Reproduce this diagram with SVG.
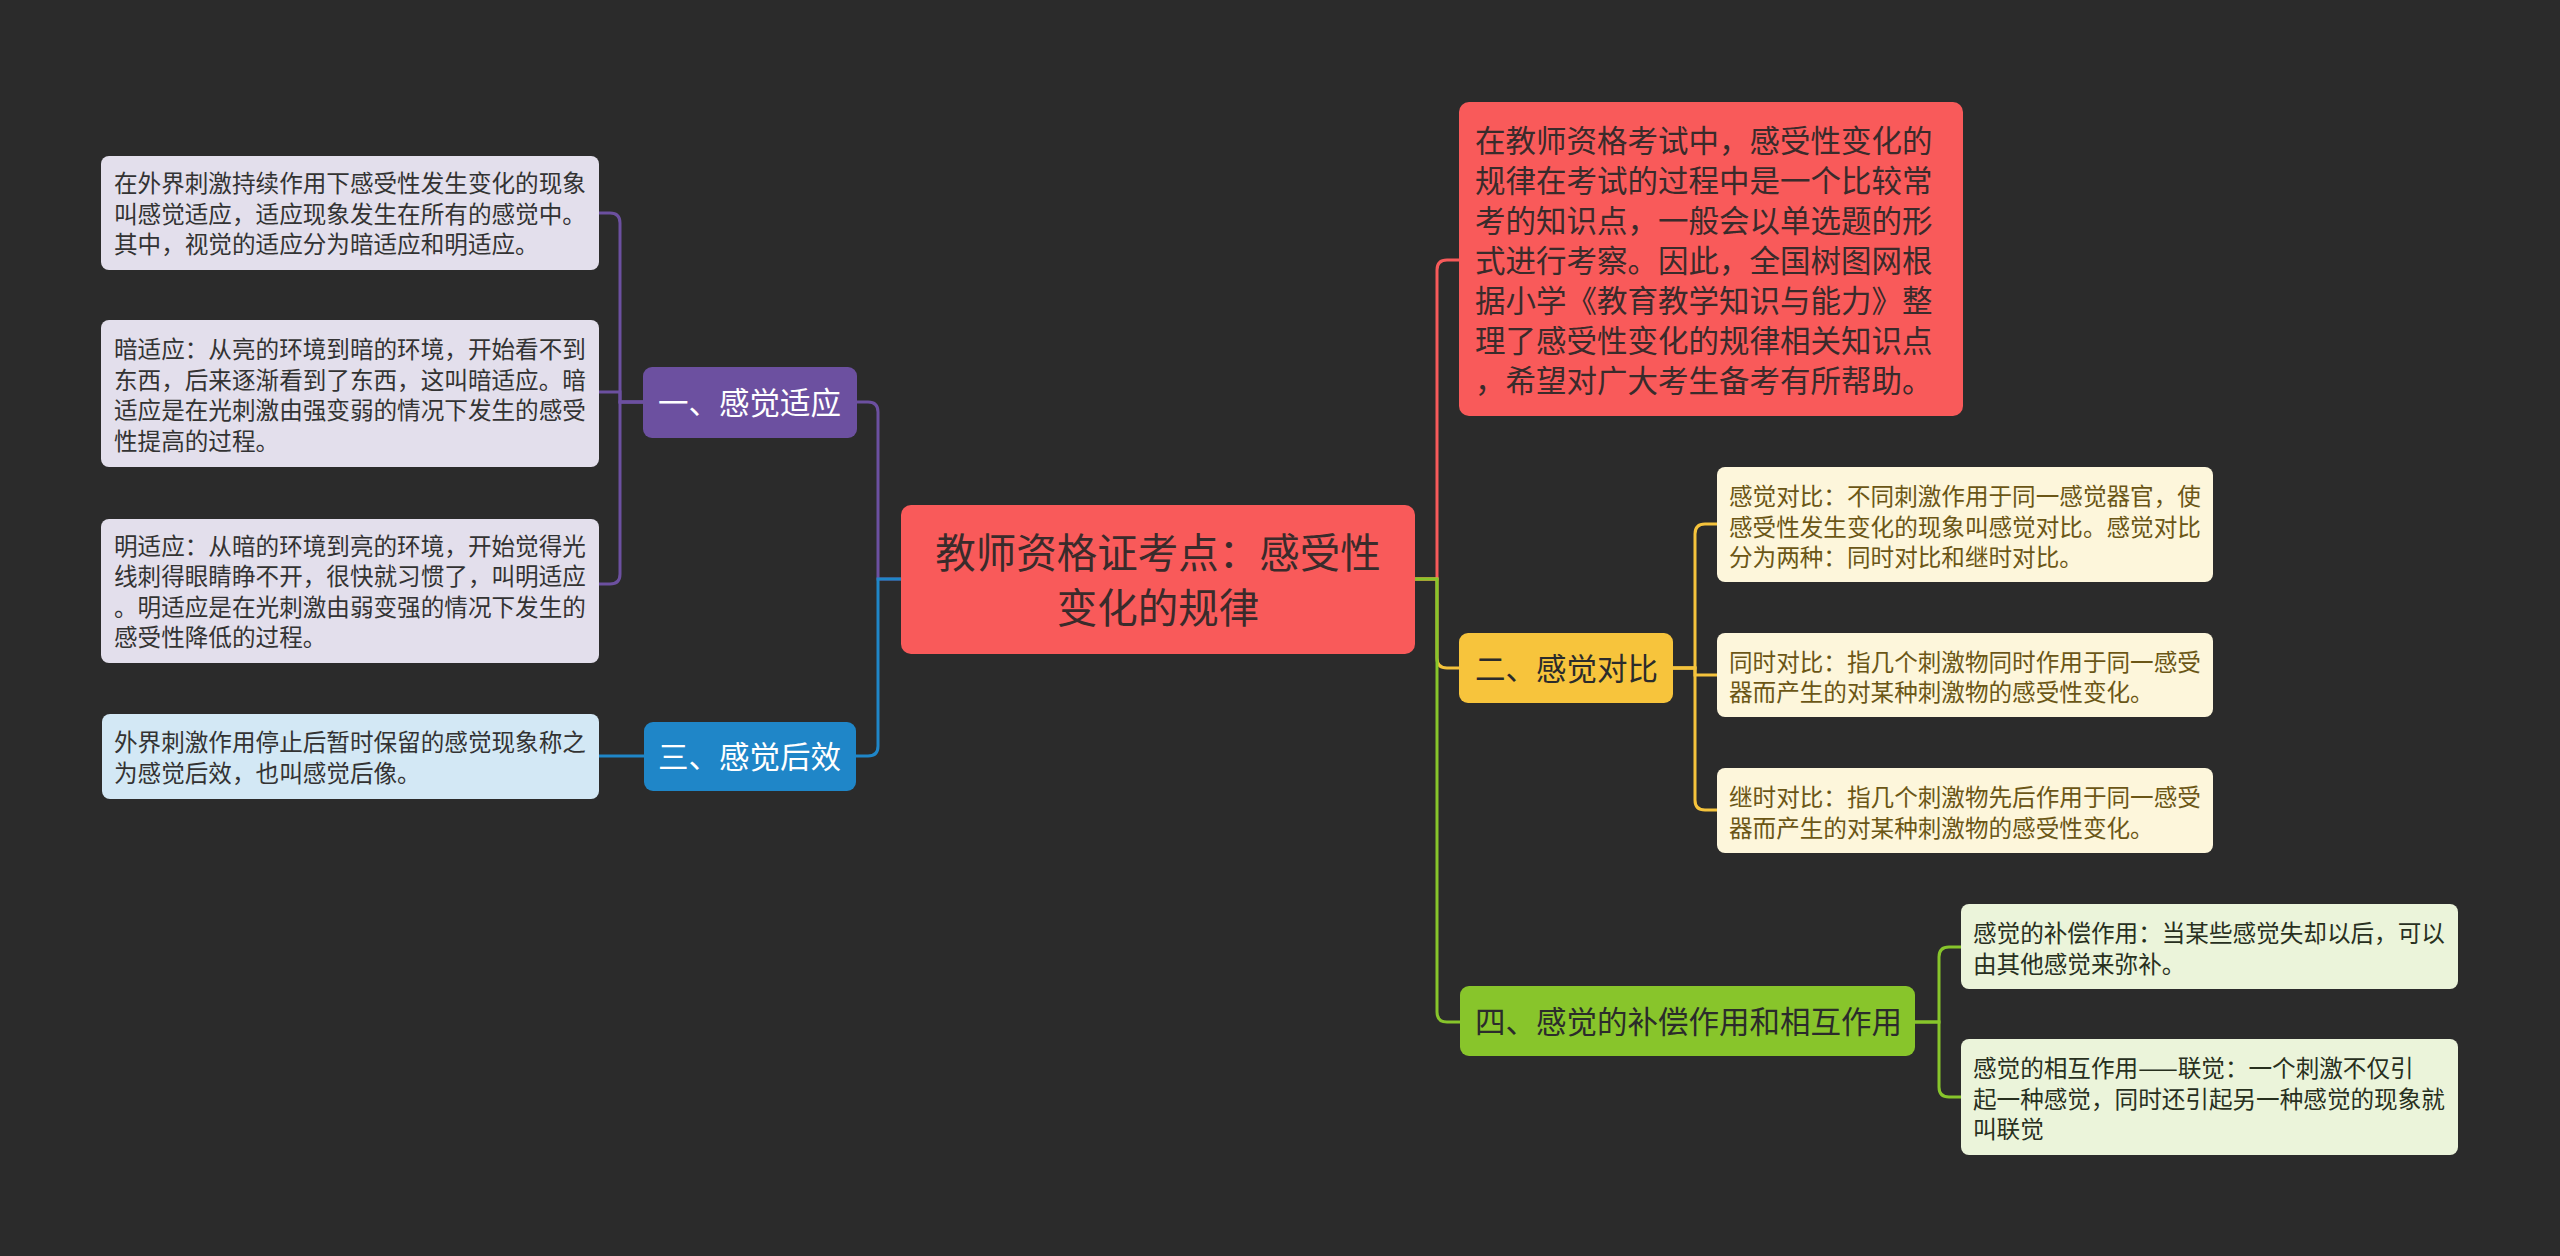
<svg xmlns="http://www.w3.org/2000/svg" width="2560" height="1256" viewBox="0 0 2560 1256">
<style>
text{font-family:"Noto Sans CJK SC","Noto Sans CJK TC",sans-serif;}
.conn path{fill:none;stroke-width:3;}
.cp{stroke:#6c50a0}.cb{stroke:#1f86c8}.cr{stroke:#f75a5a}.cy{stroke:#f5c33c}.cg{stroke:#87c52b}
.center rect{fill:#f95a5a}
.center text{font-size:40.5px;fill:#3a2b2b;text-anchor:middle}
.intro rect{fill:#f95a5a}
.intro text{font-size:30.5px;fill:#3a2b2b}
.br text{font-size:30.5px}
.leafP rect{fill:#e3dfec}
.leafB rect{fill:#d3e8f5}
.leafY rect{fill:#fdf6db}
.leafG rect{fill:#ebf4da}
.leaf text{font-size:23.6px;fill:#333333}
.leafY text{fill:#6b5616}
.leafG text{fill:#28301e}
</style>
<rect x="0" y="0" width="2560" height="1256" fill="#2b2b2b"/>

<g id="connectors" class="conn">
  <path class="cp" d="M901,579 H878 V412 Q878,402 868,402 H857"/>
  <path class="cb" d="M901,579 H878 V746 Q878,756 868,756 H856"/>
  <path class="cp" d="M643,402 H620 V223 Q620,213 610,213 H599"/>
  <path class="cp" d="M643,402 H620 V392 H599"/>
  <path class="cp" d="M643,402 H620 V574 Q620,584 610,584 H599"/>
  <path class="cb" d="M644,756 H599"/>
  <path class="cr" d="M1415,579 H1437 V270 Q1437,260 1447,260 H1459"/>
  <path class="cy" d="M1415,579 H1437 V658 Q1437,668 1447,668 H1459"/>
  <path class="cg" d="M1415,579 H1437 V1012 Q1437,1022 1447,1022 H1460"/>
  <path class="cy" d="M1673,668 H1695 V534 Q1695,524 1705,524 H1717"/>
  <path class="cy" d="M1673,668 H1695 V675 H1717"/>
  <path class="cy" d="M1673,668 H1695 V800 Q1695,810 1705,810 H1717"/>
  <path class="cg" d="M1915,1022 H1939 V957 Q1939,947 1949,947 H1961"/>
  <path class="cg" d="M1915,1022 H1939 V1087 Q1939,1097 1949,1097 H1961"/>
</g>

<g id="center" class="center">
  <rect x="901" y="505" width="514" height="149" rx="10"/>
  <text x="1158" y="568">教师资格证考点：感受性</text>
  <text x="1158" y="623">变化的规律</text>
</g>

<g id="intro" class="intro">
  <rect x="1459" y="102" width="504" height="314" rx="10"/>
  <text x="1475" y="152">在教师资格考试中，感受性变化的</text>
  <text x="1475" y="192">规律在考试的过程中是一个比较常</text>
  <text x="1475" y="232">考的知识点，一般会以单选题的形</text>
  <text x="1475" y="272">式进行考察。因此，全国树图网根</text>
  <text x="1475" y="312">据小学《教育教学知识与能力》整</text>
  <text x="1475" y="352">理了感受性变化的规律相关知识点</text>
  <text x="1475" y="392">，希望对广大考生备考有所帮助。</text>
</g>

<g id="branch1" class="br">
  <rect x="643" y="367" width="214" height="71" rx="9" fill="#6c50a0"/>
  <text x="658" y="414" fill="#ffffff">一、感觉适应</text>
</g>
<g id="branch3" class="br">
  <rect x="644" y="722" width="212" height="69" rx="9" fill="#1f86c8"/>
  <text x="658" y="768" fill="#ffffff">三、感觉后效</text>
</g>
<g id="branch2" class="br">
  <rect x="1459" y="633" width="214" height="70" rx="9" fill="#f7c43c"/>
  <text x="1475" y="680" fill="#2b2b2b">二、感觉对比</text>
</g>
<g id="branch4" class="br">
  <rect x="1460" y="986" width="455" height="70" rx="9" fill="#88c52b"/>
  <text x="1475" y="1033" fill="#2b2b2b">四、感觉的补偿作用和相互作用</text>
</g>

<g id="leaf1a" class="leaf leafP">
  <rect x="101" y="156" width="498" height="114" rx="8"/>
  <text x="114" y="192">在外界刺激持续作用下感受性发生变化的现象</text>
  <text x="114" y="222.6">叫感觉适应，适应现象发生在所有的感觉中。</text>
  <text x="114" y="253.2">其中，视觉的适应分为暗适应和明适应。</text>
</g>
<g id="leaf1b" class="leaf leafP">
  <rect x="101" y="320" width="498" height="147" rx="8"/>
  <text x="114" y="358">暗适应：从亮的环境到暗的环境，开始看不到</text>
  <text x="114" y="388.6">东西，后来逐渐看到了东西，这叫暗适应。暗</text>
  <text x="114" y="419.2">适应是在光刺激由强变弱的情况下发生的感受</text>
  <text x="114" y="449.8">性提高的过程。</text>
</g>
<g id="leaf1c" class="leaf leafP">
  <rect x="101" y="519" width="498" height="144" rx="8"/>
  <text x="114" y="554.6">明适应：从暗的环境到亮的环境，开始觉得光</text>
  <text x="114" y="585.2">线刺得眼睛睁不开，很快就习惯了，叫明适应</text>
  <text x="114" y="615.8">。明适应是在光刺激由弱变强的情况下发生的</text>
  <text x="114" y="646.4">感受性降低的过程。</text>
</g>
<g id="leaf3a" class="leaf leafB">
  <rect x="102" y="714" width="497" height="85" rx="8"/>
  <text x="114" y="751">外界刺激作用停止后暂时保留的感觉现象称之</text>
  <text x="114" y="781.6">为感觉后效，也叫感觉后像。</text>
</g>

<g id="leaf2a" class="leaf leafY">
  <rect x="1717" y="467" width="496" height="115" rx="8"/>
  <text x="1729" y="505">感觉对比：不同刺激作用于同一感觉器官，使</text>
  <text x="1729" y="535.5">感受性发生变化的现象叫感觉对比。感觉对比</text>
  <text x="1729" y="566">分为两种：同时对比和继时对比。</text>
</g>
<g id="leaf2b" class="leaf leafY">
  <rect x="1717" y="633" width="496" height="84" rx="8"/>
  <text x="1729" y="670.5">同时对比：指几个刺激物同时作用于同一感受</text>
  <text x="1729" y="701">器而产生的对某种刺激物的感受性变化。</text>
</g>
<g id="leaf2c" class="leaf leafY">
  <rect x="1717" y="768" width="496" height="85" rx="8"/>
  <text x="1729" y="806">继时对比：指几个刺激物先后作用于同一感受</text>
  <text x="1729" y="836.5">器而产生的对某种刺激物的感受性变化。</text>
</g>

<g id="leaf4a" class="leaf leafG">
  <rect x="1961" y="904" width="497" height="85" rx="8"/>
  <text x="1973" y="942">感觉的补偿作用：当某些感觉失却以后，可以</text>
  <text x="1973" y="972.5">由其他感觉来弥补。</text>
</g>
<g id="leaf4b" class="leaf leafG">
  <rect x="1961" y="1039" width="497" height="116" rx="8"/>
  <text x="1973" y="1077">感觉的相互作用——联觉：一个刺激不仅引</text>
  <text x="1973" y="1107.5">起一种感觉，同时还引起另一种感觉的现象就</text>
  <text x="1973" y="1138">叫联觉</text>
</g>
</svg>
